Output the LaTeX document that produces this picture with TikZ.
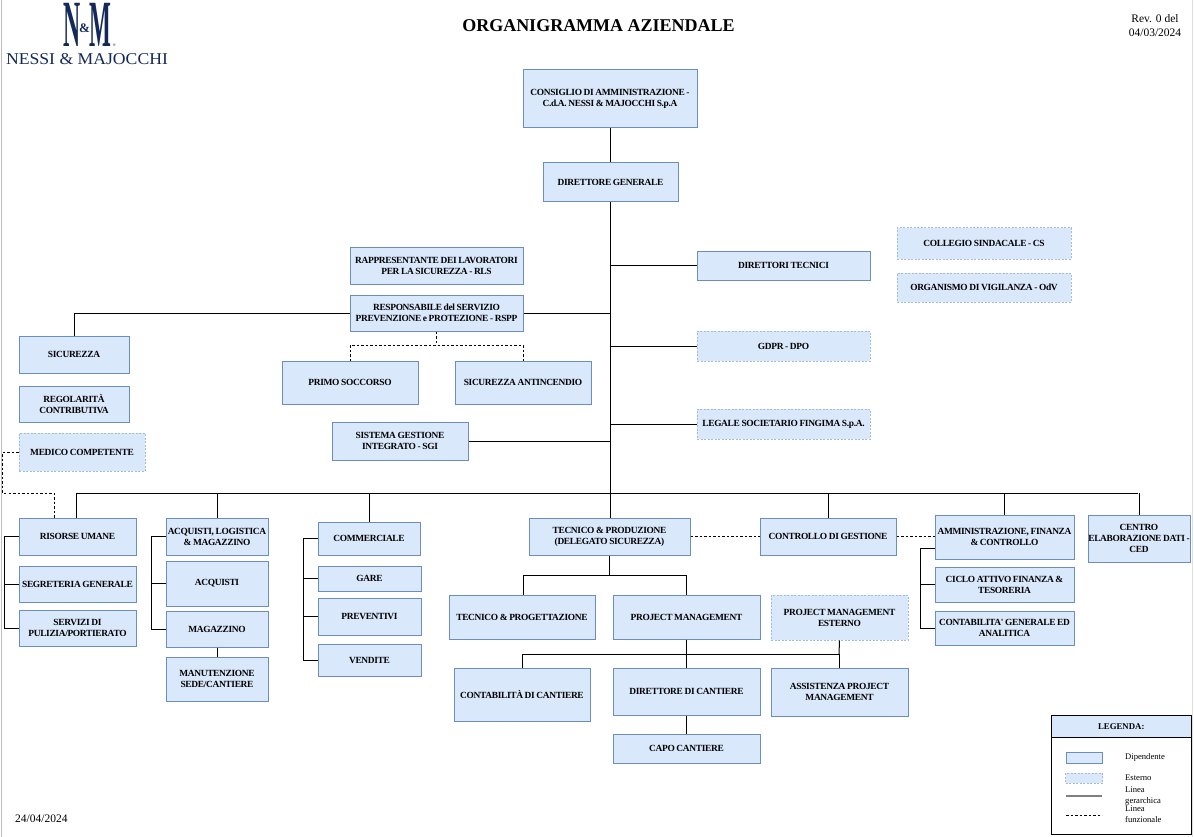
\documentclass[tikz,border=0pt]{standalone}
\usepackage{fontspec}
\setmainfont{Liberation Serif}
\newfontfamily\boxfont[LetterSpace=-3.5,WordSpace=0.8]{Liberation Serif}
\usetikzlibrary{calc}
\definecolor{boxfill}{HTML}{DAE8FC}
\definecolor{boxline}{HTML}{6C8EBF}
\definecolor{extline}{HTML}{A9B9D9}
\definecolor{navy}{HTML}{14295A}
\tikzset{
  x=1pt,y=-1pt,
  base/.style={fill=boxfill,align=center,inner sep=0pt,font=\boxfont\fontsize{9.4}{11}\selectfont\bfseries},
  dip/.style={base,draw=boxline,line width=1pt},
  ext/.style={base,draw=extline,line width=1pt,dash pattern=on 2pt off 1.5pt},
  hier/.style={draw=black,line width=1pt},
  func/.style={draw=black,line width=.9pt,dash pattern=on 2.5pt off 2pt},
  leg/.style={font=\fontsize{8.6}{10}\selectfont,anchor=west,inner sep=0pt},
  logobig/.style={inner sep=0pt,text=navy,font=\fontsize{66}{66}\selectfont\bfseries},
}
% name, style, x1, y1, x2, y2, text
\newcommand{\bx}[7]{%
  \pgfmathsetmacro{\bw}{#5-#3}\pgfmathsetmacro{\bh}{#6-#4}%
  \pgfmathsetmacro{\cx}{(#3+#5)/2}\pgfmathsetmacro{\cy}{(#4+#6)/2}%
  \node[#2,minimum width=\bw pt,minimum height=\bh pt] (#1) at (\cx,\cy) {#7};}
\begin{document}
\begin{tikzpicture}
\useasboundingbox (0,0) rectangle (1194,837);
\fill[white] (0,0) rectangle (1194,837);
\draw[gray!50,line width=1pt] (1,0) -- (1,837);
\draw[gray!25,line width=1pt] (1192.5,0) -- (1192.5,837);

% logo
\node[inner sep=0pt,text=navy,xscale=1.07,font=\fontsize{16.5}{18}\selectfont] (logotext) at (87,59) {NESSI \& MAJOCCHI};
\node[logobig,xscale=.36] (logoN) at (72.5,25) {N};
\node[logobig,xscale=.35] (logoM) at (100,25) {M};
\node[inner sep=0pt,text=navy,font=\fontsize{13}{13}\selectfont\bfseries] (logoamp) at (84.5,28) {\&};
\node[inner sep=0pt,text=navy,font=\fontsize{4}{4}\selectfont] (logor) at (114.5,45.5) {®};

% title and dates
\node[inner sep=0pt,font=\fontsize{18}{20}\selectfont\bfseries] (title) at (598.5,26) {ORGANIGRAMMA AZIENDALE};
\node[inner sep=0pt,align=center,font=\fontsize{11.5}{14}\selectfont] (rev) at (1155,25.5) {Rev. 0 del\\04/03/2024};
\node[inner sep=0pt,anchor=west,font=\fontsize{11.5}{14}\selectfont] (date) at (15,819) {24/04/2024};

% boxes
\bx{cda}{dip}{523}{70}{697}{128}{CONSIGLIO DI AMMINISTRAZIONE -\\C.d.A. NESSI \& MAJOCCHI S.p.A}
\bx{dg}{dip}{543}{163}{678}{202}{DIRETTORE GENERALE}
\bx{rls}{dip}{350}{247}{523}{284}{RAPPRESENTANTE DEI LAVORATORI\\PER LA SICUREZZA - RLS}
\bx{rspp}{dip}{350}{295}{523}{331}{RESPONSABILE del SERVIZIO\\PREVENZIONE e PROTEZIONE - RSPP}
\bx{sic}{dip}{19}{336}{129}{373}{SICUREZZA}
\bx{reg}{dip}{19}{386}{129}{422}{REGOLARITÀ\\CONTRIBUTIVA}
\bx{med}{ext}{19}{433}{145}{471}{MEDICO COMPETENTE}
\bx{primo}{dip}{282}{361}{418}{404}{PRIMO SOCCORSO}
\bx{anti}{dip}{455}{361}{591}{404}{SICUREZZA ANTINCENDIO}
\bx{sgi}{dip}{332}{422}{468}{460}{SISTEMA GESTIONE\\INTEGRATO - SGI}
\bx{dt}{dip}{697}{251}{870}{280}{DIRETTORI TECNICI}
\bx{gdpr}{ext}{697}{331}{870}{361}{GDPR - DPO}
\bx{legale}{ext}{697}{409}{870}{439}{LEGALE SOCIETARIO FINGIMA S.p.A.}
\bx{coll}{ext}{897}{228}{1071}{259}{COLLEGIO SINDACALE - CS}
\bx{odv}{ext}{897}{273}{1071}{302}{ORGANISMO DI VIGILANZA - OdV}
\bx{ru}{dip}{19}{518}{136}{555}{RISORSE UMANE}
\bx{seg}{dip}{19}{566}{136}{602}{SEGRETERIA GENERALE}
\bx{serv}{dip}{19}{610}{136}{646}{SERVIZI DI\\PULIZIA/PORTIERATO}
\bx{acql}{dip}{166}{518}{268}{555}{ACQUISTI, LOGISTICA\\\& MAGAZZINO}
\bx{acq}{dip}{166}{561}{268}{606}{ACQUISTI}
\bx{mag}{dip}{166}{611}{268}{647}{MAGAZZINO}
\bx{man}{dip}{166}{657}{268}{701}{MANUTENZIONE\\SEDE/CANTIERE}
\bx{com}{dip}{318}{522}{420}{555}{COMMERCIALE}
\bx{gare}{dip}{318}{566}{421}{591}{GARE}
\bx{prev}{dip}{318}{598}{421}{635}{PREVENTIVI}
\bx{vend}{dip}{318}{644}{421}{676}{VENDITE}
\bx{tp}{dip}{529}{518}{690}{555}{TECNICO \& PRODUZIONE\\(DELEGATO SICUREZZA)}
\bx{ctrl}{dip}{760}{518}{896}{555}{CONTROLLO DI GESTIONE}
\bx{afc}{dip}{935}{515}{1074}{559}{AMMINISTRAZIONE, FINANZA\\\& CONTROLLO}
\bx{ciclo}{dip}{935}{567}{1074}{602}{CICLO ATTIVO FINANZA \&\\TESORERIA}
\bx{cont}{dip}{935}{611}{1074}{645}{CONTABILITA' GENERALE ED\\ANALITICA}
\bx{ced}{dip}{1088}{515}{1190}{562}{CENTRO\\ELABORAZIONE DATI -\\CED}
\bx{tprog}{dip}{449}{595}{595}{639}{TECNICO \& PROGETTAZIONE}
\bx{pm}{dip}{613}{595}{760}{639}{PROJECT MANAGEMENT}
\bx{pme}{ext}{771}{595}{908}{640}{PROJECT MANAGEMENT\\ESTERNO}
\bx{ccant}{dip}{454}{668}{590}{721}{CONTABILITÀ DI CANTIERE}
\bx{dcant}{dip}{613}{668}{760}{715}{DIRETTORE DI CANTIERE}
\bx{apm}{dip}{771}{668}{908}{716}{ASSISTENZA PROJECT\\MANAGEMENT}
\bx{capo}{dip}{613}{734}{760}{763}{CAPO CANTIERE}

% junctions
\coordinate (trunkTop) at (dg.south);
\coordinate (trunkBot) at (trunkTop |- tp.north);
\coordinate (busY) at (610,493);
\coordinate (rsppBranch) at (trunkTop |- rspp.east);
\coordinate (tpBusL) at (523,575);
\coordinate (tpBusR) at (686,575);
\coordinate (pmBusL) at (522,654);
\coordinate (pmBusR) at (839,654);
\coordinate (dashTop) at (436,345);
\coordinate (dashL) at (350,345);
\coordinate (dashR) at (523,345);

% hierarchical lines
\begin{scope}[hier]
\draw (cda.south) -- (cda.south |- dg.north);
\draw (trunkTop) -- (trunkBot);
\draw (dt.west) -- (dt.west -| trunkTop);
\draw (rspp.east) -- (rsppBranch);
\draw (rspp.west) -- (74,313) -- (74,336);
\draw (gdpr.west) -- (gdpr.west -| trunkTop);
\draw (legale.west) -- (legale.west -| trunkTop);
\draw (sgi.east) -- (sgi.east -| trunkTop);
\draw (76,493) -- (1138,493);
\draw (76,493) -- (76,518);
\draw (acql.north |- busY) -- (acql.north);
\draw (com.north |- busY) -- (com.north);
\draw (ctrl.north |- busY) -- (ctrl.north);
\draw (afc.north |- busY) -- (afc.north);
\draw (ced.north |- busY) -- (ced.north);
\draw (ru.west) -- (4,536.5) -- (4,628) -- (serv.west);
\draw (seg.west) -- (seg.west -| 4,0);
\draw (acql.west) -- (151,536.5) -- (151,629) -- (mag.west);
\draw (acq.west) -- (acq.west -| 151,0);
\draw (mag.south) -- (man.north);
\draw (com.west) -- (303,538.5) -- (303,660) -- (vend.west);
\draw (gare.west) -- (gare.west -| 303,0);
\draw (prev.west) -- (prev.west -| 303,0);
\draw (tp.south) -- (tp.south |- tpBusL);
\draw (523,595) -- (tpBusL) -- (tpBusR) -- (686,595);
\draw (pm.south) -- (dcant.north);
\draw (522,668) -- (pmBusL) -- (pmBusR) -- (839,668);
\draw (pme.south) -- (pmBusR);
\draw (dcant.south) -- (capo.north);
\draw (935,548) -- (920,548) -- (920,628) -- (cont.west);
\draw (ciclo.west) -- (ciclo.west -| 920,0);
\end{scope}

% functional lines
\begin{scope}[func]
\draw (rspp.south -| dashTop) -- (dashTop);
\draw (350,361) -- (dashL) -- (dashR) -- (523,361);
\draw (med.west) -- (2.5,452) -- (2.5,493) -- (54,493) -- (54,518);
\draw (tp.east) -- (ctrl.west);
\draw (ctrl.east) -- (ctrl.east -| afc.west);
\end{scope}

% legend
\draw[black,line width=1pt] (1051.5,715.5) rectangle (1191,834);
\node[fill=boxfill,draw=black,line width=1pt,minimum width=139.5pt,minimum height=22pt,inner sep=0pt,font=\fontsize{8.8}{10}\selectfont\bfseries] (leghead) at (1121.25,726.5) {LEGENDA:};
\node[fill=boxfill,draw=boxline,line width=1pt,minimum width=36pt,minimum height=11pt,inner sep=0pt] (legdip) at (1084,757.5) {};
\node[fill=boxfill,draw=extline,line width=1pt,dash pattern=on 2pt off 1.5pt,minimum width=37pt,minimum height=10pt,inner sep=0pt] (legext) at (1084,778) {};
\draw[gray,line width=1.6pt] (1066,796) -- (1102,796);
\draw[func] (1066,815) -- (1102,815);
\node[leg] (l1) at (1125,757) {Dipendente};
\node[leg] (l2) at (1125,778) {Esterno};
\node[leg] (l3) at (1125,790) {Linea};
\node[leg] (l4) at (1125,801) {gerarchica};
\node[leg] (l5) at (1125,809) {Linea};
\node[leg] (l6) at (1125,820) {funzionale};
\end{tikzpicture}
\end{document}
